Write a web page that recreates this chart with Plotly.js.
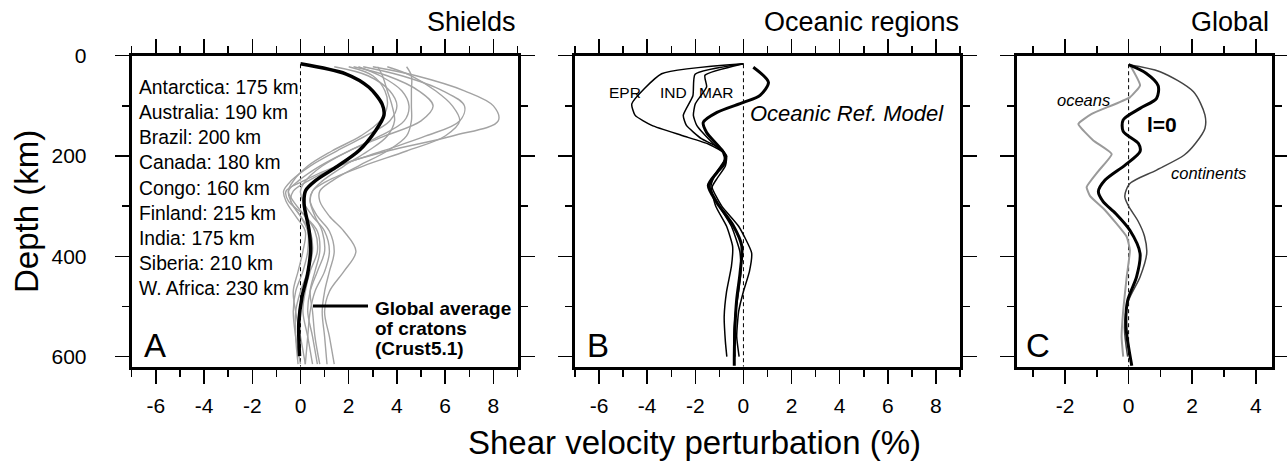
<!DOCTYPE html>
<html>
<head>
<meta charset="utf-8">
<script src="https://cdn.plot.ly/plotly-3.0.1.min.js"></script>
<style>html,body{margin:0;padding:0;background:#fff;}#chart{width:1287px;height:465px;}</style>
</head>
<body>
<div id="chart"></div>
<script>
// ---------------- DATA ----------------
// Panel A: shields (craton names with lithosphere thickness)
const cratonNames = ["Antarctica", "Australia", "Brazil", "Canada", "Congo", "Finland", "India", "Siberia", "W. Africa"];
const cratonThickness = [175, 190, 200, 180, 160, 215, 175, 210, 230];

// depth grid of the individual shield profiles (km)
const depthShield = [22, 40, 70, 100, 130, 160, 190, 220, 250, 270, 290, 320, 350, 390, 430, 470, 510, 560, 615];
// shear velocity perturbation (%) of each shield profile
const shield1 = [3.0, 4.8, 6.8, 8.0, 8.2, 6.3, 3.6, 1.5, 0.1, -0.6, -0.5, 0.2, 0.6, 0.7, 0.4, 0.2, 0.1, 0.3, 0.5];
const shield2 = [2.6, 4.2, 5.9, 6.8, 6.6, 5.2, 3.4, 1.6, 0.3, -0.3, -0.4, 0.0, 0.4, 0.5, 0.3, 0.0, -0.2, -0.2, -0.1];
const shield3 = [3.6, 4.6, 5.6, 6.3, 6.6, 6.0, 4.4, 2.6, 1.1, 0.5, 0.4, 0.7, 1.2, 1.4, 1.2, 1.0, 0.9, 1.0, 1.1];
const shield4 = [2.2, 3.6, 4.9, 5.5, 5.0, 3.5, 2.0, 0.8, -0.1, -0.5, -0.4, 0.0, 0.3, 0.3, 0.1, -0.2, -0.3, -0.2, 0.0];
const shield5 = [4.4, 4.6, 4.6, 4.6, 4.6, 4.4, 3.6, 2.4, 1.3, 0.8, 0.8, 1.2, 1.8, 2.3, 1.8, 1.2, 1.0, 1.2, 1.4];
const shield6 = [1.4, 2.8, 3.7, 4.0, 3.7, 2.7, 1.5, 0.4, -0.4, -0.7, -0.6, -0.2, 0.2, 0.1, -0.1, -0.3, -0.2, 0.0, 0.2];
const shield7 = [3.2, 3.4, 3.6, 3.8, 3.9, 3.6, 2.8, 1.8, 0.9, 0.5, 0.4, 0.6, 0.9, 1.0, 0.7, 0.4, 0.3, 0.5, 0.7];
const shield8 = [2.0, 3.0, 3.5, 3.6, 3.3, 2.5, 1.3, 0.3, -0.3, -0.5, -0.3, 0.2, 0.7, 0.8, 0.6, 0.4, 0.5, 0.6, 0.8];
const shield9 = [2.4, 3.3, 4.2, 4.5, 4.3, 3.3, 2.0, 0.9, 0.2, 0.0, 0.1, 0.5, 1.0, 1.2, 1.0, 0.6, 0.4, 0.3, 0.2];

// global average of cratons (Crust5.1)
const depthAvg = [16, 36, 63, 97, 119, 149, 189, 223, 249, 269, 296, 346, 386, 439, 479, 533, 599];
const cratonAvg = [0.0, 1.87, 2.84, 3.39, 3.46, 3.12, 2.43, 1.45, 0.62, 0.21, 0.15, 0.35, 0.42, 0.28, 0.07, -0.07, -0.04];

// Panel B: oceanic regions
const depthEPR = [16, 36, 96, 119, 139, 159, 176, 196, 215, 240, 260, 300, 340, 380, 420, 470, 520, 570, 600];
const epr = [0, -3.4, -4.64, -4.5, -3.81, -2.56, -1.46, -0.75, -0.85, -1.2, -1.35, -1.15, -0.7, -0.45, -0.5, -0.7, -0.8, -0.75, -0.69];
const depthIND = [16, 37, 80, 119, 139, 166, 186, 200, 220, 245, 262, 300, 340, 393, 430, 470, 510, 560, 600];
const ind = [0, -2.01, -2.1, -2.5, -2.37, -1.73, -0.9, -0.7, -0.75, -1.1, -1.3, -0.9, -0.2, 0.34, 0.25, 0.0, -0.2, -0.28, -0.18];
const depthMAR = [16, 39, 62, 96, 119, 139, 179, 200, 220, 245, 262, 300, 340, 390, 430, 470, 520, 570, 600];
const mar = [0, -1.6, -1.53, -2.0, -2.08, -1.94, -1.18, -0.7, -0.95, -1.3, -1.4, -1.0, -0.5, -0.15, -0.1, -0.2, -0.35, -0.4, -0.35];
const depthRef = [23, 53, 79, 93, 113, 133, 153, 193, 213, 233, 259, 293, 339, 379, 433, 486, 539, 599, 618];
const oceanRef = [0.41, 1.04, 0.69, 0.0, -1.1, -1.67, -1.53, -0.83, -0.77, -1.1, -1.46, -1.1, -0.42, -0.07, -0.14, -0.28, -0.35, -0.38, -0.38];

// Panel C: global
const depthOceans = [18, 59, 83, 116, 136, 169, 196, 230, 262, 280, 308, 361, 388, 441, 508, 561, 600];
const oceans = [0.04, 0.36, 0.04, -1.16, -1.58, -1.11, -0.53, -0.95, -1.32, -1.21, -0.74, -0.06, 0.04, -0.06, -0.17, -0.22, -0.17];
const depthL0 = [18, 35, 60, 85, 105, 128, 151, 175, 191, 218, 248, 271, 291, 315, 348, 394, 441, 488, 541, 618];
const l0 = [0.0, 0.55, 0.93, 0.88, 0.36, -0.17, -0.17, 0.31, 0.36, -0.11, -0.74, -0.95, -0.8, -0.4, 0.04, 0.36, 0.25, -0.03, -0.08, 0.1];
const depthCont = [18, 32, 72, 118, 145, 175, 198, 228, 255, 280, 300, 330, 360, 394, 441, 488, 541, 600];
const continents = [0.0, 0.99, 2.04, 2.4, 2.4, 2.1, 1.75, 0.88, 0.04, -0.12, 0.0, 0.3, 0.5, 0.57, 0.36, 0.0, -0.13, -0.03];

// tick labels
const wideTickVals = [-6, -4, -2, 0, 2, 4, 6, 8];
const wideTickText = ["-6", "-4", "-2", "0", "2", "4", "6", "8"];
const globTickVals = [-2, 0, 2, 4];
const globTickText = ["-2", "0", "2", "4"];
const depthTickVals = [0, 200, 400, 600];
const depthTickText = ["0", "200", "400", "600"];

// ---------------- FIGURE ----------------
const W = 1287, H = 465;
const FONT = "Liberation Sans, Arial, Helvetica, sans-serif";
const shieldSeries = [shield1, shield2, shield3, shield4, shield5, shield6, shield7, shield8, shield9];

const traces = [];
shieldSeries.forEach((s, i) => {
  traces.push({x: s, y: depthShield, xaxis: 'x', yaxis: 'y', mode: 'lines', name: cratonNames[i],
    line: {color: '#a3a3a3', width: 1.4, shape: 'spline', smoothing: 1}});
});
traces.push({x: cratonAvg, y: depthAvg, xaxis: 'x', yaxis: 'y', mode: 'lines', name: 'Global average of cratons',
  line: {color: '#000', width: 3.5, shape: 'spline', smoothing: 0.8}});

traces.push({x: epr, y: depthEPR, xaxis: 'x2', yaxis: 'y2', mode: 'lines', name: 'EPR', line: {color: '#000', width: 1.5, shape: 'spline', smoothing: 0.5}});
traces.push({x: ind, y: depthIND, xaxis: 'x2', yaxis: 'y2', mode: 'lines', name: 'IND', line: {color: '#000', width: 1.5, shape: 'spline', smoothing: 0.5}});
traces.push({x: mar, y: depthMAR, xaxis: 'x2', yaxis: 'y2', mode: 'lines', name: 'MAR', line: {color: '#000', width: 1.5, shape: 'spline', smoothing: 0.5}});
traces.push({x: oceanRef, y: depthRef, xaxis: 'x2', yaxis: 'y2', mode: 'lines', name: 'Oceanic Ref. Model', line: {color: '#000', width: 3, shape: 'spline', smoothing: 0.8}});

traces.push({x: oceans, y: depthOceans, xaxis: 'x3', yaxis: 'y3', mode: 'lines', name: 'oceans', line: {color: '#9a9a9a', width: 2, shape: 'spline', smoothing: 0.4}});
traces.push({x: continents, y: depthCont, xaxis: 'x3', yaxis: 'y3', mode: 'lines', name: 'continents', line: {color: '#444', width: 1.5, shape: 'spline', smoothing: 0.8}});
traces.push({x: l0, y: depthL0, xaxis: 'x3', yaxis: 'y3', mode: 'lines', name: 'l=0', line: {color: '#000', width: 3, shape: 'spline', smoothing: 0.8}});

const yDom = [(H - 366.7) / H, (H - 55.7) / H];

function xAx(domain, range, tv, tt) {
  return {
    domain: domain, range: range,
    showline: true, linewidth: 3, linecolor: '#000', mirror: 'ticks',
    ticks: 'outside', ticklen: 14, tickwidth: 1.5, tickcolor: '#000',
    tickmode: 'array', tickvals: tv, ticktext: tt, ticklabelstandoff: 4,
    tickfont: {family: FONT, size: 21, color: '#000'},
    minor: {tickmode: 'linear', tick0: 0, dtick: 1, ticks: 'outside', ticklen: 7, tickwidth: 1.5, tickcolor: '#000', showgrid: false},
    showgrid: false, zeroline: false, fixedrange: true
  };
}
function yAx(anchor, showLabels) {
  return {
    domain: yDom, range: [620, 0], anchor: anchor,
    showline: true, linewidth: 3, linecolor: '#000', mirror: 'ticks',
    ticks: 'outside', ticklen: 14, tickwidth: 1.5, tickcolor: '#000',
    tickmode: 'array', tickvals: depthTickVals, ticktext: depthTickText,
    showticklabels: showLabels, ticklabelstandoff: 24,
    tickfont: {family: FONT, size: 21, color: '#000'},
    minor: {tickmode: 'linear', tick0: 0, dtick: 100, ticks: 'outside', ticklen: 7, tickwidth: 1.5, tickcolor: '#000', showgrid: false},
    showgrid: false, zeroline: false, fixedrange: true
  };
}

const xa1 = xAx([131.7 / W, 517.5 / W], [-7, 9], wideTickVals, wideTickText); xa1.anchor = 'y';
const xa2 = xAx([575 / W, 960 / W], [-7, 9], wideTickVals, wideTickText); xa2.anchor = 'y2';
const xa3 = xAx([1017.3 / W, 1271.7 / W], [-3.5, 4.5], globTickVals, globTickText); xa3.anchor = 'y3';

function ann(text, x, y, size, opts) {
  return Object.assign({text: text, x: x / W, y: 1 - y / H, xref: 'paper', yref: 'paper', showarrow: false,
    xanchor: 'center', yanchor: 'middle', font: {family: FONT, size: size, color: '#000'}}, opts || {});
}

const annotations = [
  ann('Shields', 518, 22, 27, {xanchor: 'right'}),
  ann('Oceanic regions', 961, 22, 27, {xanchor: 'right'}),
  ann('Global', 1271, 22, 27, {xanchor: 'right'}),
  ann('Depth (km)', 26, 212, 33, {textangle: -90}),
  ann('Shear velocity perturbation (%)', 694, 442, 33),
  ann('A', 155, 345, 33),
  ann('B', 598, 345, 33),
  ann('C', 1038, 345, 33),
  ann('<b>Global average</b>', 373, 308, 19, {xanchor: 'left'}),
  ann('<b>of cratons</b>', 373, 328, 19, {xanchor: 'left'}),
  ann('<b>(Crust5.1)</b>', 373, 348, 19, {xanchor: 'left'}),
  ann('EPR', 625, 92, 15.5),
  ann('IND', 673, 92, 15.5),
  ann('MAR', 716, 92, 15.5),
  ann('<i>Oceanic Ref. Model</i>', 847, 113, 22),
  ann('<i>oceans</i>', 1083, 100, 16.5),
  ann('<b>l=0</b>', 1162, 125, 21),
  ann('<i>continents</i>', 1208, 173, 16.5)
];
cratonNames.forEach((n, i) => {
  annotations.push(ann(n + ': ' + cratonThickness[i] + ' km', 136.5, 87.3 + i * 25.2, 19.3, {xanchor: 'left'}));
});

const shapes = [];
[['x', 'y'], ['x2', 'y2'], ['x3', 'y3']].forEach(([xr, yr]) => {
  shapes.push({type: 'line', xref: xr, yref: yr, x0: 0, x1: 0, y0: 17, y1: 620,
    line: {color: '#000', width: 1, dash: '4px,3px'}, layer: 'below'});
});
// legend key for the global average line
shapes.push({type: 'line', xref: 'paper', yref: 'paper', x0: 313 / W, x1: 368 / W, y0: 1 - 306 / H, y1: 1 - 306 / H,
  line: {color: '#000', width: 3}});

const layout = {
  width: W, height: H,
  margin: {l: 0, r: 0, t: 0, b: 0, pad: 0},
  paper_bgcolor: '#fff', plot_bgcolor: '#fff',
  showlegend: false,
  font: {family: FONT, color: '#000'},
  xaxis: xa1, xaxis2: xa2, xaxis3: xa3,
  yaxis: yAx('x', true), yaxis2: yAx('x2', false), yaxis3: yAx('x3', false),
  annotations: annotations,
  shapes: shapes
};

Plotly.newPlot('chart', traces, layout, {displayModeBar: false, staticPlot: true});
</script>
</body>
</html>
